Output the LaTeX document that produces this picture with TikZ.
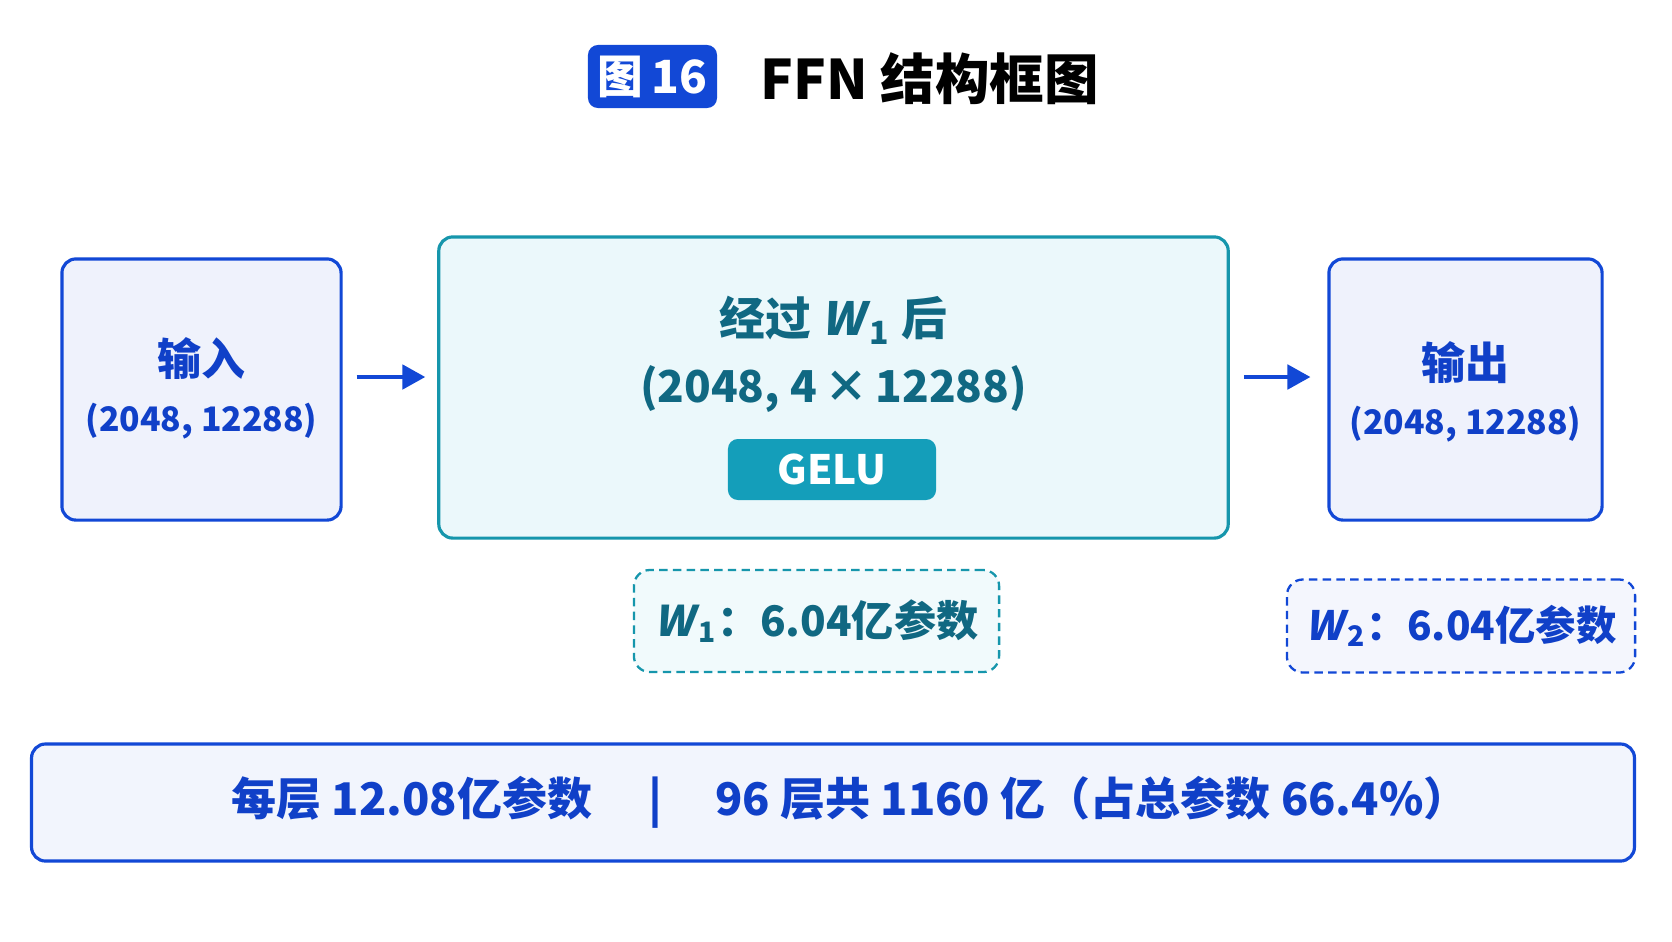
\documentclass[tikz,border=0pt]{standalone}
\usepackage{fontspec}
\setmainfont{Noto Sans CJK SC}
\newfontfamily\wfont{Noto Sans CJK SC}[FakeSlant=0.22]
\usepackage{tikz}
\usetikzlibrary{positioning, arrows.meta}
\definecolor{mainblue}{RGB}{18, 72, 214}
\definecolor{bluefill}{RGB}{239, 242, 252}
\definecolor{bluetext}{RGB}{16, 64, 200}
\definecolor{mainteal}{RGB}{22, 150, 172}
\definecolor{tealfill}{RGB}{235, 248, 251}
\definecolor{tealtext}{RGB}{16, 104, 130}
\definecolor{gelufill}{RGB}{20, 158, 186}
\newcommand{\Wsub}[1]{{\wfont W}\kern0.12em\textsubscript{#1}}

\tikzset{
  box/.style={draw, line width=0.9pt, rounded corners=0.14cm, inner sep=0pt},
  bluebox/.style={box, draw=mainblue, fill=bluefill},
  tealbox/.style={box, draw=mainteal, fill=tealfill},
  notebox/.style={draw, line width=0.65pt, dash pattern=on 2.4pt off 1.5pt, rounded corners=0.16cm, inner sep=0pt},
  flow/.style={-{Triangle[length=6.5pt, width=7pt]}, line width=0.9pt, draw=mainblue}
}

\begin{document}
\begin{tikzpicture}[x=0.01cm, y=-0.01cm, font=\bfseries]
    \fill[white] (0,0) rectangle (1672,941);
    \useasboundingbox (0,0) rectangle (1672,941);

    % 标题
    \node[fill=mainblue, rounded corners=0.1cm, minimum width=1.29cm, minimum height=0.63cm, inner sep=0pt,
          text=white, font=\bfseries\fontsize{13}{15}\selectfont] (badge) at (652.5,76.5) {图\,16};
    \node[anchor=west, font=\bfseries\fontsize{15.5}{18}\selectfont, inner sep=0pt] (title) at (760,79) {FFN 结构框图};

    % 三个主框
    \node[bluebox, minimum width=2.79cm, minimum height=2.61cm] (in) at (201.5,389.5) {};
    \node[tealbox, minimum width=7.89cm, minimum height=3.01cm] (mid) at (833.5,387.5) {};
    \node[bluebox, minimum width=2.73cm, minimum height=2.61cm] (out) at (1465.5,389.5) {};

    \node[text=bluetext, font=\bfseries\fontsize{12.5}{14}\selectfont] (inname) at (201.5,359) {输入};
    \node[text=bluetext, font=\bfseries\fontsize{9.6}{12}\selectfont] (indim) at (201.5,421) {(2048, 12288)};

    \node[text=tealtext, font=\bfseries\fontsize{13}{15}\selectfont] (midname) at (833.5,320) {经过 \Wsub{1} 后};
    \node[text=tealtext, font=\bfseries\fontsize{12.5}{15}\selectfont] (middim) at (833.5,389) {(2048, 4\,×\,12288)};
    \node[fill=gelufill, rounded corners=0.1cm, minimum width=2.08cm, minimum height=0.61cm,
          text=white, font=\bfseries\fontsize{11.5}{13}\selectfont] (gelu) at (832,469.5) {GELU};

    \node[text=bluetext, font=\bfseries\fontsize{12.5}{14}\selectfont] (outname) at (1465.5,363) {输出};
    \node[text=bluetext, font=\bfseries\fontsize{9.6}{12}\selectfont] (outdim) at (1465.5,424) {(2048, 12288)};

    \draw[flow, shorten <=14*0.01cm, shorten >=12*0.01cm] ([yshift=0.125cm]in.east) -- ([yshift=0.125cm]in.east -| mid.west);
    \draw[flow, shorten <=14*0.01cm, shorten >=17*0.01cm] ([yshift=0.125cm]in.east -| mid.east) -- ([yshift=0.125cm]in.east -| out.west);

    % 参数量
    \node[notebox, draw=mainteal, fill=tealfill!70!white, minimum width=3.65cm, minimum height=1.02cm,
          text=tealtext, font=\bfseries\fontsize{12}{14}\selectfont] (w1) at (816.5,621) {\Wsub{1}：6.04亿参数};
    \node[notebox, draw=mainblue, fill=bluefill!70!white, minimum width=3.48cm, minimum height=0.93cm,
          text=bluetext, font=\bfseries\fontsize{11.5}{14}\selectfont] (w2) at (1461,626) {\Wsub{2}：6.04亿参数};

    % 汇总
    \node[box, draw=mainblue, fill=bluefill!80!white, minimum width=16.02cm, minimum height=1.17cm,
          text=bluetext, font=\bfseries\fontsize{12.8}{16}\selectfont] (sum) at (833,802.5) {};
    \node[text=bluetext, font=\bfseries\fontsize{12.8}{16}\selectfont] (sumtext) at (850,802.5)
          {每层 12.08亿参数\hspace{16pt}|\hspace{15pt}96 层共 1160 亿（占总参数 66.4\%）};
\end{tikzpicture}
\end{document}
